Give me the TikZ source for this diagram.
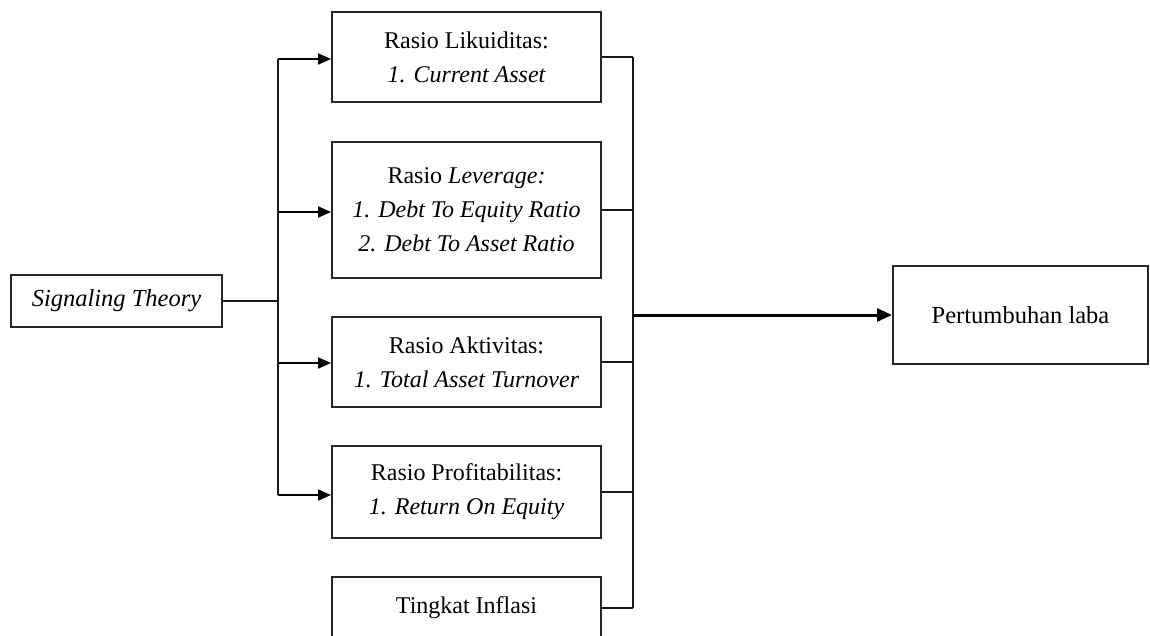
\documentclass[tikz,border=0pt]{standalone}
\usepackage{fontspec}
\setmainfont{Liberation Serif}
\usetikzlibrary{arrows.meta}
\begin{document}
\begin{tikzpicture}[x=1pt,y=-1pt,
  box/.style={draw=black!85,line width=2pt,minimum width=269pt,inner sep=0pt,align=center,
    font=\fontsize{24}{34}\selectfont},
  conn/.style={draw=black!90,line width=2pt},
  arr/.style={draw=black,line width=2pt,-{Triangle[length=13pt,width=11pt]}},
  bigarr/.style={draw=black,line width=3pt,-{Triangle[length=15pt,width=13pt]}}]
\fill[white] (0,0) rectangle (1150,636);
\clip (0,0) rectangle (1150,636);
\useasboundingbox (0,0) rectangle (1150,636);

\node[box,minimum width=211pt,minimum height=52pt,font=\fontsize{24.5}{34}\selectfont\itshape] (sig) at (116.5,301) {Signaling Theory};
\node[box,minimum height=90pt] (b1) at (466.5,57) {Rasio Likuiditas:\\\itshape 1. Current Asset};
\node[box,minimum height=136pt] (b2) at (466.5,210) {Rasio \textit{Leverage:}\\\itshape 1. Debt To Equity Ratio\\\itshape 2. Debt To Asset Ratio};
\node[box,minimum height=90pt] (b3) at (466.5,362) {Rasio Aktivitas:\\\itshape 1. Total Asset Turnover};
\node[box,minimum height=92pt] (b4) at (466.5,492) {Rasio Profitabilitas:\\\itshape 1. Return On Equity};
\node[box,minimum height=62pt] (b5) at (466.5,608) {Tingkat Inflasi};
\node[box,minimum width=255pt,minimum height=98pt,font=\fontsize{24.5}{34}\selectfont] (out) at (1020.5,315) {Pertumbuhan laba};

\coordinate (lt) at (278,59);
\coordinate (lb) at (278,495);
\coordinate (rt) at (633,57);
\coordinate (rb) at (633,608);
\coordinate (rm) at (633,315);

\draw[conn] (sig.east) -- (sig.east -| lt);
\draw[conn] (lt) -- (lb);
\draw[arr] (lt) -- (b1.west |- lt);
\draw[arr] (278,212) -- (b2.west |- 278,212);
\draw[arr] (278,363) -- (b3.west |- 278,363);
\draw[arr] (lb) -- (b4.west |- lb);

\draw[conn] (b1.east) -- (b1.east -| rt);
\draw[conn] (b2.east) -- (b2.east -| rt);
\draw[conn] (b3.east) -- (b3.east -| rt);
\draw[conn] (b4.east) -- (b4.east -| rt);
\draw[conn] (b5.east) -- (b5.east -| rt);
\draw[conn] (rt) -- (rb);
\draw[bigarr] (rm) -- (out.west);
\end{tikzpicture}
\end{document}
